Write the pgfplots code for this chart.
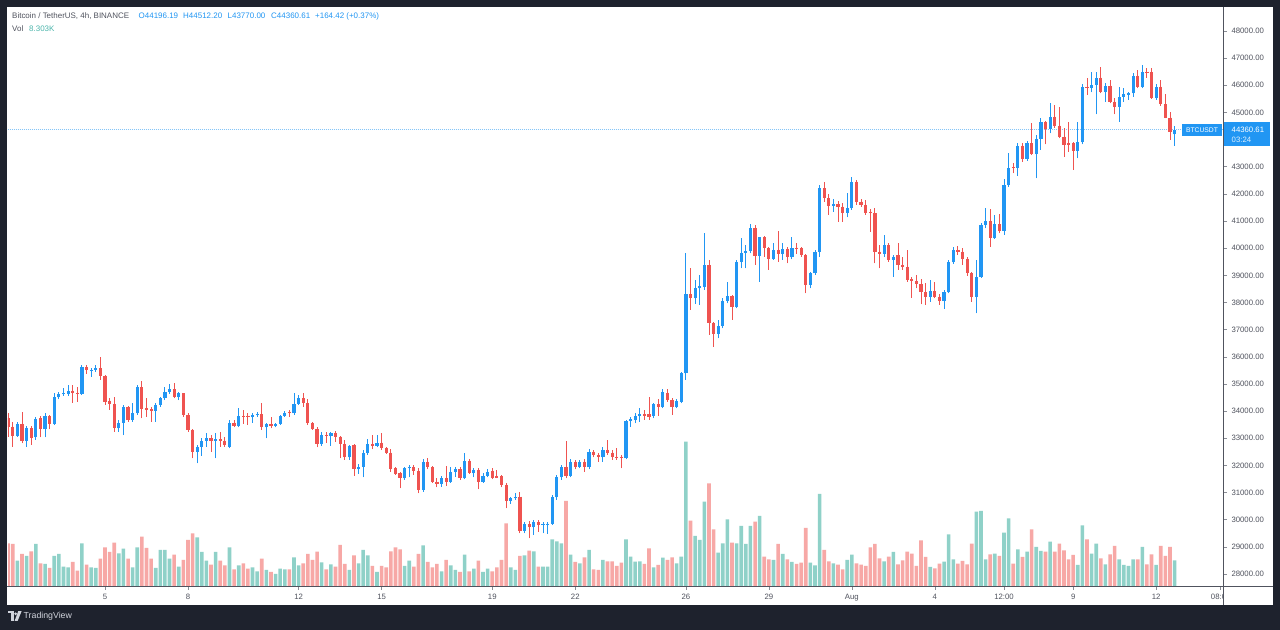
\documentclass[border=0pt]{standalone}
\usepackage{pgfplots}
\pgfplotsset{compat=1.18}
\usepackage{pgfplotstable}
\usepackage{fontspec}
\setmainfont{Liberation Sans}
\definecolor{upc}{HTML}{2196F3}
\definecolor{dnc}{HTML}{EF5350}
\definecolor{upv}{HTML}{8FD1C8}
\definecolor{dnv}{HTML}{F7A8A6}
\definecolor{frame}{HTML}{1E222D}
\definecolor{txt}{HTML}{50535E}
\definecolor{axl}{HTML}{8A8D96}
\definecolor{sep}{HTML}{50535E}
\definecolor{volt}{HTML}{4DB6AC}
\definecolor{logo}{HTML}{D1D4DC}

\pgfplotstableread{
i o h l c v
2 33100 33611 33059 33526 76
4 32912 33452 32691 33366 90
6 33034 33797 32936 33710 126
8 33329 33918 33034 33820 66
10 33526 34655 33489 34508 90
11 34508 34716 34434 34618 96
12 34618 34839 34557 34680 58
13 34640 34962 34557 34753 56
16 34631 35699 34594 35613 128
18 35480 35576 35269 35514 56
19 35514 35699 35453 35576 54
24 33366 33673 33243 33575 98
25 33575 34225 33120 34139 112
27 33673 34287 33611 33918 56
28 33918 34962 33857 34876 116
32 34017 34287 33611 34225 54
33 34225 34532 34164 34471 108
34 34471 34876 34409 34716 108
35 34716 34999 34631 34802 82
37 34532 34716 34409 34655 58
41 32506 32752 32077 32691 146
42 32691 32998 32347 32912 102
43 32912 33182 32691 32998 76
45 32912 33182 32261 32961 102
48 32691 33673 32629 33575 116
50 33452 34102 33403 33820 62
53 33771 33918 33575 33845 56
54 33845 33980 33797 33882 44
56 33403 33575 32998 33526 48
58 33452 33575 33403 33526 36
59 33526 33857 33489 33820 52
60 33820 34017 33797 33943 50
62 33918 34655 33857 34262 86
63 34262 34594 34225 34471 62
68 32790 33244 32716 33121 71
70 33084 33244 32716 33183 65
74 32299 32753 32200 32716 48
76 31857 32053 31685 31955 68
77 31955 32569 31562 32470 108
78 32470 32962 32385 32790 92
80 32716 33121 32667 32839 42
86 31525 31931 31464 31894 60
87 31894 32016 31562 31931 76
90 31095 32225 31034 32139 122
94 31316 31611 31218 31525 44
96 31402 31955 31365 31771 62
97 31771 31955 31587 31857 48
99 31525 32446 31488 32176 94
101 31709 31894 31562 31832 52
103 31402 31709 31365 31611 42
104 31611 31857 31562 31771 52
109 30702 30850 30580 30788 56
110 30788 30997 30727 30850 48
112 29597 29929 29499 29843 92
114 29720 29990 29438 29929 104
116 29806 29929 29499 29840 58
117 29820 29929 29475 29855 58
118 29843 30911 29806 30825 140
119 30825 31648 30727 31562 134
120 31562 32016 31464 31955 128
122 31611 32225 31562 32139 94
124 31955 32200 31894 32139 68
126 31931 32593 31857 32507 108
129 32299 32691 32138 32568 78
134 32261 33673 32224 33648 140
135 33648 33771 33427 33697 88
136 33673 33918 33550 33820 73
137 33820 34102 33611 33882 74
140 33820 34311 33734 34262 56
142 34164 34802 34102 34716 85
145 34164 34434 34102 34385 68
146 34348 35453 34287 35392 88
147 35392 39811 35146 38313 433
149 38154 38829 37945 38522 150
150 38522 39013 37909 38608 138
151 38584 40573 38461 39370 253
154 36841 37356 36681 37135 100
155 37135 38154 37049 38068 128
156 38068 38768 37970 38240 200
158 37847 39566 37786 39505 128
159 39505 40364 39259 39836 180
160 39836 40118 39259 39910 126
161 39910 40892 39812 40757 180
163 39713 40425 38768 40401 210
166 39591 40180 39566 39934 78
168 39787 40180 39566 39959 96
170 39664 40425 39591 39996 72
174 38645 39136 38522 39075 70
175 39075 39934 39013 39873 62
176 39873 42328 39689 42205 276
179 41555 41800 41346 41628 68
182 41309 42021 41137 41469 78
183 41469 42635 41407 42451 94
190 39787 40487 39689 40118 74
192 39566 39750 38952 39689 102
200 38215 38829 38031 38424 57
203 38055 38461 37761 38375 73
204 38375 39566 38338 39480 155
205 39480 40057 39420 39934 80
210 38215 39566 37601 38952 223
211 38952 40916 38915 40855 225
212 40855 41469 40732 41002 80
214 40388 41223 40339 40880 97
216 40634 42549 40487 42328 160
217 42328 43494 42266 42966 203
219 42966 43862 42672 43776 110
221 43285 43948 43212 43862 103
223 43457 44170 42574 44022 117
224 44022 44783 43617 44660 105
226 44391 45336 44231 44845 133
232 43580 44661 43310 43899 63
233 43899 46036 43826 45950 182
235 45913 46478 45741 46011 97
236 46011 46478 44931 46281 127
238 45766 46072 45397 45987 65
241 45213 45950 44661 45581 80
242 45581 45889 45397 45667 63
243 45643 45766 45459 45704 60
244 45704 46441 45581 46355 80
246 45950 46747 45888 46477 117
249 45545 46036 45459 45950 63
253 44196.19 44512.20 43770.00 44360.61 77
}\uptab

\pgfplotstableread{
i o h l c v
0 33734 33918 33059 33427 128
1 33427 33611 32691 33090 126
3 33526 33980 32814 32912 96
5 33366 33452 32752 32998 104
7 33734 33820 33034 33329 68
9 33820 33857 33329 33526 54
14 34753 34962 34311 34680 72
15 34680 34901 34348 34640 46
17 35613 35699 35367 35514 64
20 35576 35981 35146 35293 82
21 35293 35330 34225 34348 116
22 34385 34471 34041 34262 102
23 34262 34532 33243 33366 130
26 34139 34188 33611 33673 82
29 34876 35121 33734 34066 148
30 34102 34471 33797 34041 114
31 34066 34164 33611 34017 82
36 34802 35048 34471 34532 94
38 34655 34680 33797 33857 78
39 33857 33918 33243 33305 138
40 33305 33329 32261 32506 158
44 32998 33120 32506 32912 64
46 32961 33243 32691 32912 76
47 32912 33034 32691 32752 62
49 33575 33673 33403 33452 50
51 33820 34041 33526 33771 68
52 33820 33918 33489 33771 52
55 33882 34287 33305 33403 82
57 33526 33797 33366 33452 42
61 33980 34041 33797 33918 50
64 34471 34680 34164 34287 68
65 34287 34435 33489 33551 96
66 33551 33612 33305 33330 78
67 33330 33403 32667 32790 103
69 33121 33244 32839 33084 50
71 33183 33281 32876 33060 58
72 33060 33084 32262 32790 123
73 32790 32937 32200 32299 66
75 32753 32790 31611 31857 92
79 32790 33121 32593 32716 60
81 32839 33183 32569 32630 60
82 32630 32667 32421 32470 56
83 32470 32593 31771 31857 104
84 31894 31955 31648 31685 116
85 31709 31771 31157 31525 110
88 31931 32016 31648 31808 58
89 31808 31894 30972 31095 96
91 32139 32262 31857 31931 72
92 31931 31980 31365 31402 56
93 31402 31525 31193 31316 66
95 31525 31980 31243 31402 78
98 31857 31955 31464 31525 42
100 32176 32225 31685 31709 44
102 31832 31894 31120 31402 76
105 31808 31894 31488 31525 44
106 31611 31832 31525 31550 56
107 31611 31648 31193 31279 78
108 31279 31341 30420 30702 188
111 30850 31034 29499 29597 90
113 29843 29966 29315 29720 106
115 29929 29990 29561 29806 58
121 31955 32912 31525 31611 255
123 32139 32200 31857 31955 72
125 32139 32225 31771 31931 86
127 32507 32569 32299 32385 50
128 32385 32446 32139 32299 48
130 32568 32936 32384 32470 74
131 32470 32568 32200 32322 74
132 32322 32630 32200 32290 60
133 32322 32384 31893 32261 70
138 33882 34041 33673 33820 66
139 33882 34507 33673 33795 113
141 34262 34434 33820 34164 63
143 34679 34802 34348 34409 78
144 34409 34471 33857 34164 86
148 38313 39259 37724 38154 196
152 39370 39566 36804 37233 308
153 37233 37295 36374 36841 170
157 38240 38277 37356 37847 130
162 40757 40855 39382 39713 193
164 40401 40450 39689 39996 88
165 39996 40033 39198 39591 80
167 39934 40646 39505 39787 126
169 39959 40057 39443 39664 80
171 40020 40180 39787 39959 66
172 39996 40033 39689 39750 70
173 39750 39787 38338 38645 174
177 42205 42451 41714 41837 108
178 41837 41997 41223 41555 74
180 41628 41751 40978 41530 64
181 41530 41653 40978 41309 50
184 42451 42512 41591 41714 68
185 41714 41800 41530 41591 64
186 41591 41776 41223 41285 60
187 41346 41432 40610 41285 116
188 41285 41469 39443 39873 126
189 39873 40118 39259 39787 83
191 40118 40180 39505 39566 88
193 39750 40179 39198 39382 65
194 39382 39689 39198 39320 77
195 39320 39934 38768 38829 103
196 38866 38952 38178 38792 97
197 38792 39013 38522 38669 60
198 38669 38866 37933 38375 137
199 38375 38706 37908 38215 87
201 38424 38768 38154 38215 53
202 38215 38301 37908 38055 67
206 39934 40094 39750 39873 67
207 39873 39996 39382 39603 75
208 39603 39689 38989 39075 65
209 39075 39136 38031 38215 127
213 41002 41444 40057 40388 95
215 40880 41248 40548 40634 90
218 42991 43126 42758 42942 67
220 43776 43862 43187 43285 87
222 43862 44599 43433 43457 170
225 44660 44685 43826 44391 103
227 44845 45274 44440 44513 103
228 44513 45213 44047 44108 127
229 44108 44415 43371 43801 107
230 43862 44661 43555 43801 80
231 43862 43899 42880 43580 93
234 45950 46256 45643 45913 140
237 46281 46686 45704 45766 83
239 45987 46195 45336 45397 95
240 45397 45545 44931 45213 120
245 46355 46563 45888 45950 80
247 46502 46650 46281 46441 65
248 46477 46625 45495 45545 95
250 45950 46195 45250 45299 120
251 45299 45667 44783 44808 90
252 44808 45029 43985 44268 117
}\dntab

\begin{document}
\begin{tikzpicture}[x=1bp,y=1bp]
\fill[frame] (0,0) rectangle (1280,630);
\fill[white] (7,25) rectangle (1273,623);

% volume pane
\begin{axis}[at={(8bp,44bp)}, anchor=south west, scale only axis,
  width=1215bp, height=578bp, xmin=-0.04, xmax=263.5, ymin=0, ymax=1734,
  hide axis]
\addplot[ybar, bar width=3.6bp, bar shift=0pt, fill=upv, draw=none] table[x=i,y=v] {\uptab};
\addplot[ybar, bar width=3.6bp, bar shift=0pt, fill=dnv, draw=none] table[x=i,y=v] {\dntab};
\end{axis}

% price pane
\begin{axis}[at={(8bp,44bp)}, anchor=south west, scale only axis,
  width=1215bp, height=578bp, xmin=-0.04, xmax=263.5, ymin=27559, ymax=48847,
  axis line style={draw=none}, xtick pos=left, ytick pos=right, yticklabel pos=right,
  tick align=outside, major tick length=4bp, tick style={axl, line width=0.6bp},
  ytick={28000,29000,30000,31000,32000,33000,34000,35000,36000,37000,38000,39000,40000,41000,42000,43000,45000,46000,47000,48000},
  scaled y ticks=false,
  yticklabel={\pgfmathprintnumber[fixed,fixed zerofill,precision=2,1000 sep={}]{\tick}},
  xtick={21,39,63,81,105,123,147,165,183,201,216,231,249,263},
  xticklabels={5,8,12,15,19,22,26,29,Aug,4,12:00,9,12,08:00},
  tick label style={font=\fontsize{7.8}{9}\selectfont, text=txt},
  /pgf/number format/assume math mode=true,
  yticklabel style={xshift=1bp},
  xticklabel style={yshift=-0.5bp}]
\addplot[upc!55, dash pattern=on 1bp off 1bp, line width=0.6bp] coordinates {(-1,44360.61) (265,44360.61)};
\addplot[dnc, line width=0.9bp, quiver={u=0, v=\thisrow{h}-\thisrow{l}}] table[x=i,y=l] {\dntab};
\addplot[dnc, line width=3.2bp, quiver={u=0, v=\thisrow{c}-\thisrow{o}}] table[x=i,y=o] {\dntab};
\addplot[upc, line width=0.9bp, quiver={u=0, v=\thisrow{h}-\thisrow{l}}] table[x=i,y=l] {\uptab};
\addplot[upc, line width=3.2bp, quiver={u=0, v=\thisrow{c}-\thisrow{o}}] table[x=i,y=o] {\uptab};
\end{axis}

% price scale area cover for cut label
\fill[white] (1223.9,25) rectangle (1273,43.6);
\draw[sep, line width=0.8bp] (1223.5,25) -- (1223.5,623);
\draw[sep, line width=0.8bp] (7,44) -- (1273,44);

% price labels
\fill[upc] (1182,494) rectangle (1222,506);
\node[text=white, inner sep=0, font=\fontsize{6.8}{8}\selectfont] at (1202,500) {BTCUSDT};
\fill[upc] (1223.9,484) rectangle (1270,508);
\node[text=white, anchor=west, inner sep=0, font=\fontsize{7.8}{9}\selectfont] at (1231.5,500.5) {44360.61};
\node[text=white!85!upc, anchor=west, inner sep=0, font=\fontsize{7.8}{9}\selectfont] at (1231.5,490.5) {03:24};

% legend header
\begin{scope}[every node/.style={anchor=west, inner sep=0, font=\fontsize{8}{10}\selectfont}]
\node[text=txt] at (12,614) {Bitcoin / TetherUS, 4h, BINANCE};
\node[text=upc] at (138.5,614) {O44196.19};
\node[text=upc] at (183,614) {H44512.20};
\node[text=upc] at (227.5,614) {L43770.00};
\node[text=upc] at (271,614) {C44360.61};
\node[text=upc] at (315,614) {+164.42 (+0.37\%)};
\node[text=txt] at (12,601) {Vol};
\node[text=volt] at (29,601) {8.303K};
\end{scope}

% TradingView logo
\fill[logo] (7.5,16.5) rectangle (13.5,18.8);
\fill[logo] (10.8,9) rectangle (13.5,18.8);
\fill[logo] (15.6,16.2) circle (1.5);
\fill[logo] (18.2,18.8) -- (21.6,18.8) -- (17.6,9) -- (14.6,9) -- cycle;
\node[anchor=west, inner sep=0, text=logo, font=\fontsize{8.8}{10}\selectfont] at (23.5,13.5) {TradingView};
\end{tikzpicture}
\end{document}
